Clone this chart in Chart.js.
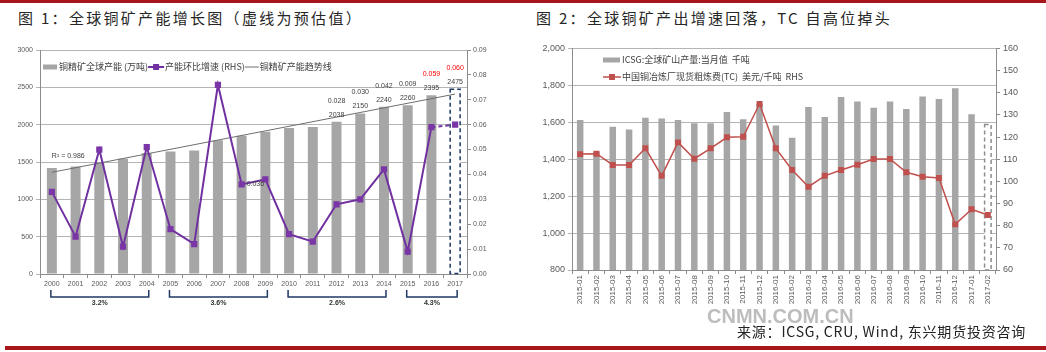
<!DOCTYPE html>
<html>
<head>
<meta charset="utf-8">
<script src="https://cdn.jsdelivr.net/npm/chart.js@4.4.1/dist/chart.umd.min.js"></script>
<style>
body { margin: 0; width: 1046px; height: 352px; background: #fff; position: relative; overflow: hidden; font-family: "Noto Sans CJK SC", sans-serif; }
.rule { position: absolute; background: #a8151b; }
.title { position: absolute; top: 7px; font-size: 15px; letter-spacing: 2.3px; color: #262626; line-height: 22px; white-space: nowrap; }
.box { position: absolute; }
#source { position: absolute; left: 737px; top: 321px; font-size: 14px; letter-spacing: 0.8px; color: #222; white-space: nowrap; line-height: 20px; }
#mark { position: absolute; left: 707px; top: 304px; font: bold 20px "Liberation Sans", Arial, sans-serif; color: #bdbdbd; white-space: nowrap; line-height: 24px; }
</style>
</head>
<body>
<div class="rule" style="left:0;top:0;width:1046px;height:3px"></div>
<div class="rule" style="left:5px;top:346px;width:1041px;height:4px"></div>
<div class="title" style="left:18px">图 1：全球铜矿产能增长图（虚线为预估值）</div>
<div class="title" style="left:536px">图 2：全球铜矿产出增速回落，TC 自高位掉头</div>
<div class="box" style="left:0;top:40px"><canvas id="chart1" width="510" height="280"></canvas></div>
<div class="box" style="left:520px;top:40px"><canvas id="chart2" width="526" height="270"></canvas></div>
<div id="mark">CNMN.COM.CN</div>
<div id="source">来源：ICSG, CRU, Wind, 东兴期货投资咨询</div>

<script>
// ---- figure 1 data ----
const years = ['2000', '2001', '2002', '2003', '2004', '2005', '2006', '2007', '2008',
    '2009', '2010', '2011', '2012', '2013', '2014', '2015', '2016', '2017'];
const capacity = [1420, 1440, 1490, 1545, 1620, 1640, 1655, 1790, 1850,
    1905, 1955, 1970, 2038, 2150, 2240, 2260, 2395, 2475];
const growth = [0.033, 0.015, 0.050, 0.011, 0.051, 0.018, 0.012, 0.076, 0.036,
    0.038, 0.016, 0.013, 0.028, 0.030, 0.042, 0.009, 0.059, 0.060];
const trend = [1362, null, null, null, null, null, null, null, null,
    null, null, null, null, null, null, null, null, 2410];
const labelFrom = 12;
const bracketFrom = [0, 5, 10, 15];
const bracketTo = [4, 9, 14, 17];
const bracketText = ['3.2%', '3.6%', '2.6%', '4.3%'];

// ---- figure 2 data ----
const months = ['2015-01', '2015-02', '2015-03', '2015-04', '2015-05', '2015-06', '2015-07',
    '2015-08', '2015-09', '2015-10', '2015-11', '2015-12', '2016-01', '2016-02', '2016-03',
    '2016-04', '2016-05', '2016-06', '2016-07', '2016-08', '2016-09', '2016-10', '2016-11',
    '2016-12', '2017-01', '2017-02'];
const mineOutput = [1612, 1440, 1576, 1561, 1625, 1620, 1612, 1595, 1594, 1656, 1617, 1700,
    1582, 1516, 1683, 1629, 1737, 1712, 1679, 1712, 1672, 1740, 1726, 1784, 1643, 1588];
const tcFee = [112.3, 112.5, 107.4, 107.4, 114.9, 102.5, 117.6, 110.2, 114.9, 119.9, 120.1, 134.9,
    114.9, 105.1, 97.6, 102.5, 105.1, 107.5, 110.1, 110.1, 104.1, 102.1, 101.5, 80.6, 87.4, 84.8];

const numFont = '"Liberation Sans", Arial, sans-serif';
const cjkFont = '"Noto Sans CJK SC", sans-serif';
Chart.defaults.font.family = numFont;
Chart.defaults.color = '#595959';

function fixWidth(w) {
    return function (scale) { scale.width = w; };
}
function fixHeight(h) {
    return function (scale) { scale.height = h; };
}

// last bar is an estimate: hollow with a dashed outline
function drawDashedBar(chart, meta, color) {
    const bar = meta.data[meta.data.length - 1];
    const bottom = Math.min(bar.base, chart.chartArea.bottom);
    const ctx = chart.ctx;
    ctx.save();
    ctx.strokeStyle = color;
    ctx.lineWidth = 1.5;
    ctx.setLineDash([4, 3]);
    ctx.strokeRect(bar.x - bar.width / 2, bar.y, bar.width, bottom - bar.y);
    ctx.restore();
}

const chart1Extras = {
    id: 'chart1Extras',
    afterDatasetDraw(chart, args) {
        if (args.index === 0) drawDashedBar(chart, args.meta, '#1f3864');
    },
    afterDraw(chart) {
        const ctx = chart.ctx;
        const x = chart.scales.x;
        const y = chart.scales.y;
        const y2 = chart.scales.y2;
        ctx.save();

        // value labels for the later years
        ctx.textAlign = 'center';
        ctx.textBaseline = 'middle';
        ctx.font = '7px ' + numFont;
        for (let i = labelFrom; i < years.length; i++) {
            const px = x.getPixelForValue(i);
            const py = y.getPixelForValue(capacity[i]) - 7;
            ctx.fillStyle = '#404040';
            ctx.fillText(String(capacity[i]), px, py);
            ctx.fillStyle = i >= 16 ? '#ff0000' : '#404040';
            ctx.fillText(growth[i].toFixed(3), px, py - 14);
        }
        ctx.fillStyle = '#404040';
        ctx.textAlign = 'left';
        ctx.fillText(growth[8].toFixed(3), x.getPixelForValue(8) + 5, y2.getPixelForValue(growth[8]));
        ctx.fillText('R² = 0.986', x.getPixelForValue(0), y.getPixelForValue(trend[0]) - 16);

        // brackets under the axis
        const top = chart.chartArea.bottom + 16;
        ctx.strokeStyle = '#1f3864';
        ctx.lineWidth = 1.5;
        for (let k = 0; k < bracketFrom.length; k++) {
            const a = x.getPixelForValue(bracketFrom[k]) - 1;
            const b = x.getPixelForValue(bracketTo[k]) + 2;
            ctx.beginPath();
            ctx.moveTo(a, top);
            ctx.lineTo(a, top + 7);
            ctx.lineTo(b, top + 7);
            ctx.lineTo(b, top);
            ctx.stroke();
            ctx.fillStyle = '#333';
            ctx.textAlign = 'center';
            ctx.font = 'bold 7px ' + numFont;
            ctx.fillText(bracketText[k], (a + b) / 2, top + 13);
        }

        // legend
        const ly = 27;
        let lx = 43;
        ctx.font = '9px ' + cjkFont;
        ctx.textAlign = 'left';
        ctx.fillStyle = '#a6a6a6';
        ctx.fillRect(lx, ly - 2.5, 14, 5);
        lx += 16;
        ctx.fillStyle = '#404040';
        ctx.fillText('铜精矿全球产能 (万吨)', lx, ly);
        lx += ctx.measureText('铜精矿全球产能 (万吨)').width;
        ctx.strokeStyle = '#7030a0';
        ctx.lineWidth = 2;
        ctx.beginPath();
        ctx.moveTo(lx, ly);
        ctx.lineTo(lx + 16, ly);
        ctx.stroke();
        ctx.fillStyle = '#7030a0';
        ctx.fillRect(lx + 5, ly - 3, 6, 6);
        lx += 17;
        ctx.fillStyle = '#404040';
        ctx.fillText('产能环比增速 (RHS)', lx, ly);
        lx += ctx.measureText('产能环比增速 (RHS)').width;
        ctx.strokeStyle = '#6e6e6e';
        ctx.lineWidth = 1;
        ctx.beginPath();
        ctx.moveTo(lx, ly);
        ctx.lineTo(lx + 14, ly);
        ctx.stroke();
        lx += 15;
        ctx.fillText('铜精矿产能趋势线', lx, ly);
        ctx.restore();
    }
};

new Chart(document.getElementById('chart1'), {
    type: 'bar',
    data: {
        labels: years,
        datasets: [{
            label: '铜精矿全球产能 (万吨)',
            data: capacity,
            yAxisID: 'y',
            order: 3,
            backgroundColor: capacity.map((v, i) => i === capacity.length - 1 ? '#ffffff' : '#a6a6a6'),
            barPercentage: 0.42,
            categoryPercentage: 1
        }, {
            type: 'line',
            label: '铜精矿产能趋势线',
            data: trend,
            yAxisID: 'y',
            order: 2,
            spanGaps: true,
            borderColor: '#6e6e6e',
            borderWidth: 1,
            pointRadius: 0
        }, {
            type: 'line',
            label: '产能环比增速 (RHS)',
            data: growth,
            yAxisID: 'y2',
            order: 1,
            borderColor: '#7030a0',
            borderWidth: 2,
            pointStyle: 'rect',
            pointRadius: 4.4,
            pointBackgroundColor: '#7a35a6',
            pointBorderWidth: 0,
            segment: {
                borderDash: c => c.p1DataIndex === years.length - 1 ? [4, 3] : undefined
            }
        }]
    },
    options: {
        responsive: false,
        animation: false,
        layout: { padding: { top: 10, left: 0, right: 0, bottom: 0 } },
        plugins: { legend: { display: false }, tooltip: { enabled: false } },
        scales: {
            x: {
                afterFit: fixHeight(46),
                grid: { drawOnChartArea: false, tickLength: 4, color: '#8c8c8c' },
                border: { color: '#8c8c8c' },
                ticks: { font: { size: 7 }, padding: 2, maxRotation: 0, autoSkip: false }
            },
            y: {
                position: 'left',
                min: 0, max: 3000,
                afterFit: fixWidth(40),
                grid: { color: '#b4b4b4', tickLength: 4 },
                border: { color: '#8c8c8c' },
                ticks: { stepSize: 500, font: { size: 7 }, padding: 3, callback: v => String(v) }
            },
            y2: {
                position: 'right',
                min: 0, max: 0.09,
                afterFit: fixWidth(43),
                grid: { drawOnChartArea: false, tickLength: 4, color: '#8c8c8c' },
                border: { color: '#8c8c8c' },
                ticks: { stepSize: 0.01, font: { size: 7 }, padding: 2, callback: v => v.toFixed(2) }
            }
        }
    },
    plugins: [chart1Extras]
});

const chart2Extras = {
    id: 'chart2Extras',
    afterDatasetDraw(chart, args) {
        if (args.index === 0) drawDashedBar(chart, args.meta, '#8c8c8c');
    },
    afterDraw(chart) {
        const ctx = chart.ctx;
        ctx.save();
        ctx.font = '9px ' + cjkFont;
        ctx.textAlign = 'left';
        ctx.textBaseline = 'middle';
        ctx.fillStyle = '#a6a6a6';
        ctx.fillRect(83, 17.5, 17, 5);
        ctx.fillStyle = '#404040';
        ctx.fillText('ICSG:全球矿山产量:当月值  千吨', 102, 20);
        ctx.strokeStyle = '#c0504d';
        ctx.lineWidth = 1.5;
        ctx.beginPath();
        ctx.moveTo(83, 37);
        ctx.lineTo(101, 37);
        ctx.stroke();
        ctx.fillStyle = '#c0504d';
        ctx.fillRect(89, 34, 6, 6);
        ctx.fillStyle = '#404040';
        ctx.fillText('中国铜冶炼厂现货粗炼费(TC)  美元/千吨  RHS', 102, 37);
        ctx.restore();
    }
};

new Chart(document.getElementById('chart2'), {
    type: 'bar',
    data: {
        labels: months,
        datasets: [{
            label: 'ICSG:全球矿山产量:当月值 千吨',
            data: mineOutput,
            yAxisID: 'y',
            order: 2,
            backgroundColor: mineOutput.map((v, i) => i === mineOutput.length - 1 ? '#ffffff' : '#a6a6a6'),
            barPercentage: 0.4,
            categoryPercentage: 1
        }, {
            type: 'line',
            label: '中国铜冶炼厂现货粗炼费(TC) 美元/千吨 RHS',
            data: tcFee,
            yAxisID: 'y2',
            order: 1,
            borderColor: '#c0504d',
            borderWidth: 1.5,
            pointStyle: 'rect',
            pointRadius: 4.2,
            pointBackgroundColor: '#c0504d',
            pointBorderWidth: 0
        }]
    },
    options: {
        responsive: false,
        animation: false,
        layout: { padding: { top: 8, left: 0, right: 0, bottom: 0 } },
        plugins: { legend: { display: false }, tooltip: { enabled: false } },
        scales: {
            x: {
                afterFit: fixHeight(40),
                grid: { drawOnChartArea: false, tickLength: 4, color: '#8c8c8c' },
                border: { color: '#8c8c8c' },
                ticks: { font: { size: 8 }, padding: 1, minRotation: 90, maxRotation: 90, autoSkip: false }
            },
            y: {
                position: 'left',
                min: 800, max: 2000,
                afterFit: fixWidth(52),
                grid: { color: '#b4b4b4', tickLength: 4 },
                border: { color: '#8c8c8c' },
                ticks: { stepSize: 200, font: { size: 9 }, padding: 3 }
            },
            y2: {
                position: 'right',
                min: 60, max: 160,
                afterFit: fixWidth(50),
                grid: { drawOnChartArea: false, tickLength: 4, color: '#8c8c8c' },
                border: { color: '#8c8c8c' },
                ticks: { stepSize: 10, font: { size: 9 }, padding: 3 }
            }
        }
    },
    plugins: [chart2Extras]
});
</script>
</body>
</html>
